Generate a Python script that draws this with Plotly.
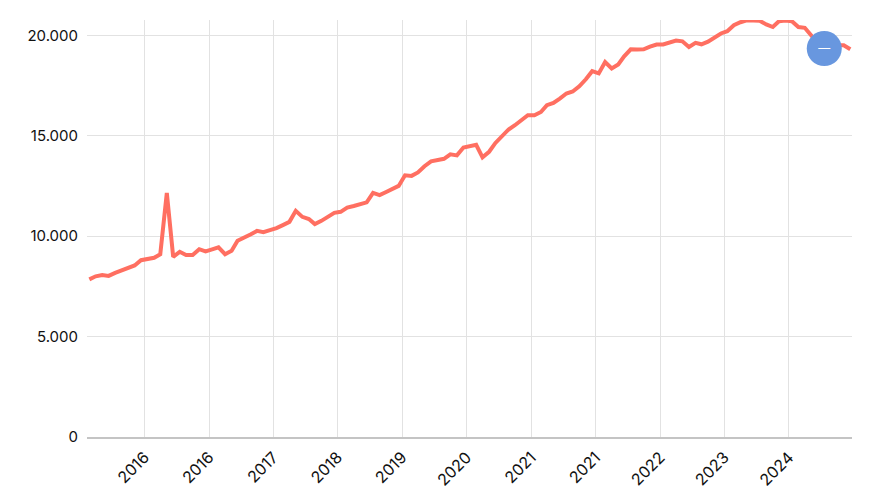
import pandas as pd
import plotly.graph_objects as go

# Monthly series, Apr 2015 .. Feb 2025 (mid-month points)
dates = pd.date_range("2015-04-01", periods=119, freq="MS") + pd.Timedelta(days=14)
values = [
    7850, 8000, 8060, 8020, 8170, 8290, 8420, 8540, 8800, 8840,
    8920, 9100, 12150, 8970, 9220, 9060, 9060, 9350, 9240, 9340,
    9440, 9100, 9270, 9770, 9910, 10080, 10260, 10200, 10300, 10400,
    10550, 10710, 11260, 10960, 10850, 10600, 10760, 10960, 11160, 11210,
    11420, 11500, 11590, 11680, 12150, 12040, 12200, 12320, 12500, 13030,
    13000, 13170, 13480, 13720, 13780, 13850, 14070, 14020, 14410, 14480,
    14550, 13920, 14200, 14640, 14980, 15310, 15520, 15770, 16020, 16020,
    16180, 16520, 16630, 16850, 17100, 17200, 17460, 17810, 18210, 18100,
    18670, 18350, 18550, 18950, 19300, 19290, 19300, 19430, 19540, 19540,
    19620, 19740, 19700, 19420, 19620, 19550, 19680, 19900, 20090, 20200,
    20500, 20650, 20740, 20740, 20720, 20540, 20410, 20700, 20740, 20700,
    20410, 20370, 19950, 19600, 19340, 19450, 19500, 19500, 19300,
]

# highlighted point (blue badge)
marker_index = 114

tick_dates = ["2016-01-01", "2016-11-01", "2017-09-01", "2018-07-01", "2019-05-01",
              "2020-03-01", "2021-01-01", "2021-11-01", "2022-09-01", "2023-07-01",
              "2024-05-01"]
tick_labels = ["2016", "2016", "2017", "2018", "2019", "2020", "2021", "2021",
               "2022", "2023", "2024"]
y_ticks = [0, 5000, 10000, 15000, 20000]
y_labels = ["0", "5.000", "10.000", "15.000", "20.000"]

FONT = "Inter, Roboto, 'Noto Sans', sans-serif"

fig = go.Figure()
fig.add_trace(go.Scatter(
    x=dates, y=values, mode="lines",
    line=dict(color="#FF6F61", width=4),
    hoverinfo="skip", showlegend=False,
))
fig.add_trace(go.Scatter(
    x=[dates[marker_index]], y=[values[marker_index]],
    mode="markers+text", text=["—"], textposition="middle center",
    textfont=dict(color="white", size=12, family=FONT),
    marker=dict(size=35, color="#6897DF", line=dict(width=0)),
    hoverinfo="skip", showlegend=False,
))

fig.update_layout(
    width=873, height=500,
    margin=dict(l=79, r=29, t=12, b=71),
    paper_bgcolor="white", plot_bgcolor="white",
    font=dict(family=FONT, size=15, color="#111111"),
    xaxis=dict(
        type="date",
        range=["2015-04-04", "2025-02-23"],
        tickvals=tick_dates, ticktext=tick_labels,
        tickangle=-45,
        showgrid=True, gridcolor="#e2e2e2", gridwidth=1,
        showline=True, linecolor="#c4c4c4", linewidth=1.5,
        ticks="", zeroline=False, automargin=False,
        ticklabelstandoff=3,
        tickfont=dict(size=16),
    ),
    yaxis=dict(
        range=[0, 20760],
        tickvals=y_ticks, ticktext=y_labels,
        showgrid=True, gridcolor="#e2e2e2", gridwidth=1,
        zeroline=False, showline=False, ticks="", automargin=False,
        ticklabelstandoff=8,
        tickfont=dict(size=15),
    ),
)

fig.write_html("out.html")
